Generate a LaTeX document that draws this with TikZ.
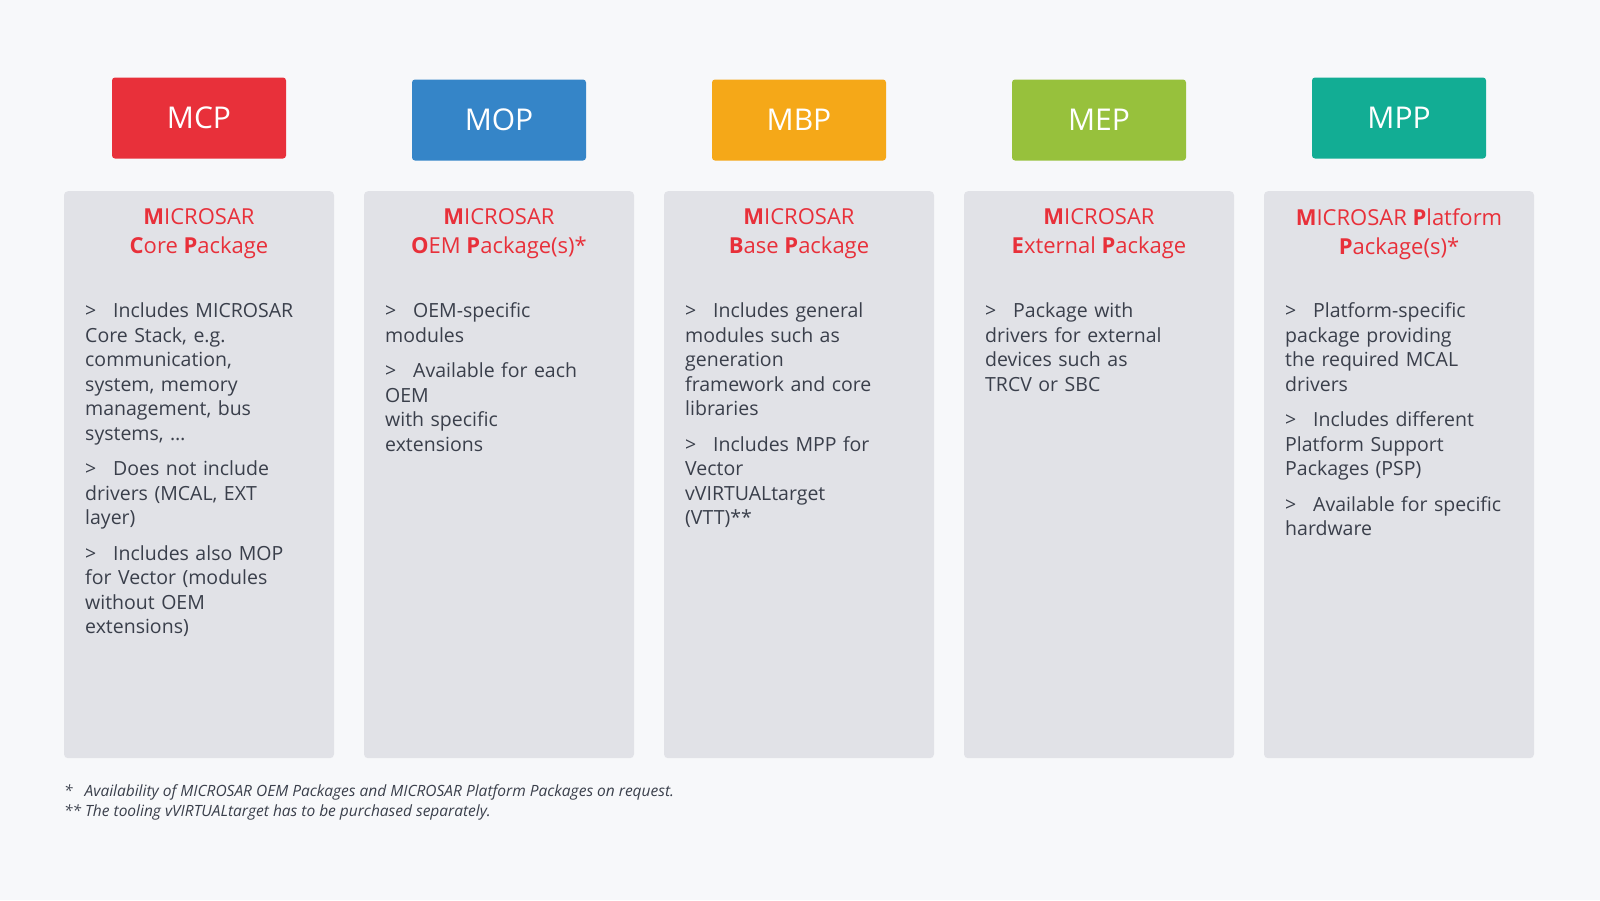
\documentclass[tikz,border=0pt]{standalone}
\usepackage{fontspec}
\setmainfont{Open Sans}
\definecolor{bg}{HTML}{F7F8FA}
\definecolor{col}{HTML}{E1E2E7}
\definecolor{cred}{HTML}{E8303A}
\definecolor{cblue}{HTML}{3585C8}
\definecolor{corange}{HTML}{F5A818}
\definecolor{cgreen}{HTML}{97C13C}
\definecolor{cteal}{HTML}{12AD94}
\definecolor{txt}{HTML}{3A3F4B}
\newcommand\itm[1]{\par\hangindent=28pt\hangafter=1\noindent\makebox[28pt][l]{>}#1\par\vspace{11pt}}
\begin{document}
\begin{tikzpicture}[x=1pt,y=-1pt,
  hdr/.style={rounded corners=3pt,minimum width=174pt,minimum height=81pt,text=white,font=\fontsize{30}{30}\selectfont},
  colbox/.style={fill=col,rounded corners=4pt,minimum width=270pt,minimum height=567pt,anchor=north},
  ttl/.style={text=cred,align=center,anchor=north,font=\fontsize{22}{29}\selectfont},
  lst/.style={text=txt,anchor=north west,text width=250pt,align=left,inner sep=0pt,font=\fontsize{19.5}{24.5}\selectfont},
  foot/.style={text=txt,anchor=north west,inner sep=0pt,font=\fontsize{15.5}{20}\selectfont\itshape}]
\fill[bg] (0,0) rectangle (1600,900);
\useasboundingbox (0,0) rectangle (1600,900);
\foreach \i/\n/\c/\hy in {0/MCP/cred/118,1/MOP/cblue/120,2/MBP/corange/120,3/MEP/cgreen/120,4/MPP/cteal/118}{
  \node[hdr,fill=\c] (h\i) at (199+300*\i,\hy) {\n};
  \node[colbox] (c\i) at (199+300*\i,191) {};
}
\node[ttl] (t0) at (199,205) {\textbf{M}ICROSAR\\\textbf{C}ore \textbf{P}ackage};
\node[ttl] (t1) at (499,205) {\textbf{M}ICROSAR\\\textbf{O}EM \textbf{P}ackage(s)*};
\node[ttl] (t2) at (799,205) {\textbf{M}ICROSAR\\\textbf{B}ase \textbf{P}ackage};
\node[ttl] (t3) at (1099,205) {\textbf{M}ICROSAR\\\textbf{E}xternal \textbf{P}ackage};
\node[ttl] (t4) at (1399,205) {\textbf{M}ICROSAR \textbf{P}latform\\\textbf{P}ackage(s)*};
\node[lst] (l0) at (85,293) {%
\itm{Includes MICROSAR\\Core Stack, e.g.\\communication,\\system, memory\\management, bus\\systems, \dots}%
\itm{Does not include\\drivers (MCAL, EXT\\layer)}%
\itm{Includes also MOP\\for Vector (modules\\without OEM\\extensions)}};
\node[lst] (l1) at (385,293) {%
\itm{OEM-specific\\modules}%
\itm{Available for each\\OEM\\with specific\\extensions}};
\node[lst] (l2) at (685,293) {%
\itm{Includes general\\modules such as\\generation\\framework and core\\libraries}%
\itm{Includes MPP for\\Vector\\vVIRTUALtarget\\(VTT)**}};
\node[lst] (l3) at (985,293) {%
\itm{Package with\\drivers for external\\devices such as\\TRCV or SBC}};
\node[lst] (l4) at (1285,293) {%
\itm{Platform-specific\\package providing\\the required MCAL\\drivers}%
\itm{Includes different\\Platform Support\\Packages (PSP)}%
\itm{Available for specific\\hardware}};
\node[foot] (f1) at (64,784) {*\hspace{12pt}Availability of MICROSAR OEM Packages and MICROSAR Platform Packages on request.};
\node[foot] (f2) at (64,804) {** The tooling vVIRTUALtarget has to be purchased separately.};
\end{tikzpicture}
\end{document}
